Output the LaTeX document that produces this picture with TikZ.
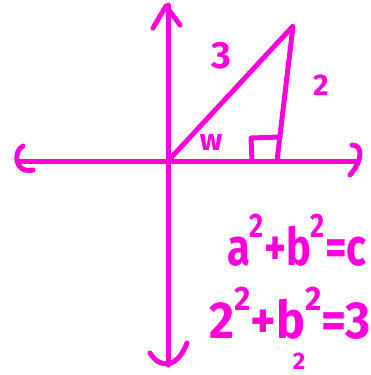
\documentclass[tikz,border=0pt]{standalone}
\usepackage{fontspec}
\setmainfont{Fira Sans}
\usepackage{tikz}
\usetikzlibrary{calc}
\definecolor{SketchPink}{RGB}{255,0,220}
\tikzset{
  ink/.style={draw=SketchPink,line width=5pt,line cap=round,line join=round},
  mark label/.style={text=SketchPink,inner sep=0pt,font=\bfseries\fontsize{38}{38}\selectfont},
  eqn/.style={text=SketchPink,inner sep=0pt,anchor=base west,
    font=\bfseries\fontsize{52}{52}\selectfont}
}
\newcommand{\hsq}{\raisebox{28pt}{\fontsize{34}{34}\selectfont 2}}

\begin{document}
\begin{tikzpicture}[x=1pt,y=-1pt]

\useasboundingbox (0,0) rectangle (370,375);
\clip (0,0) rectangle (370,375);

% corners of the triangle
\coordinate (origin) at (168,161);
\coordinate (apex) at (293,26);
\coordinate (foot) at (277,161);

% axes
\draw[ink] (168,365) -- (168,5);
\draw[ink] (153,28) -- (166,6) -- (180,25);
\draw[ink] (150,353) .. controls (160,369) and (177,369) .. (187,343);
\draw[ink] (20,161) -- (358,161);
\draw[ink] (352,145) .. controls (363,145) and (363,160) .. (350,175);
\draw[ink] (23,146) .. controls (13,151) and (14,174) .. (33,170);

% triangle
\draw[ink] (origin) -- (apex) -- (foot);
\draw[ink] (252,161) -- (251,138) -- (280,137);

\node[mark label] (hyp) at (221,56) {3};
\node[mark label,font=\bfseries\fontsize{30}{30}\selectfont] (leg) at (321,85) {2};
\node[mark label,font=\bfseries\fontsize{30}{30}\selectfont] (angle) at (211,143) {w};

% equations
\node[eqn] (pyth) at (227,265)
  {\scalebox{0.8}[1]{a\hsq+b\hsq=c}};
\node[eqn] (subst) at (209,338)
  {\scalebox{0.93}[1]{2\hsq+b\hsq=3}};
\node[mark label,font=\bfseries\fontsize{24}{24}\selectfont] (below) at (299,361) {2};

\end{tikzpicture}
\end{document}
